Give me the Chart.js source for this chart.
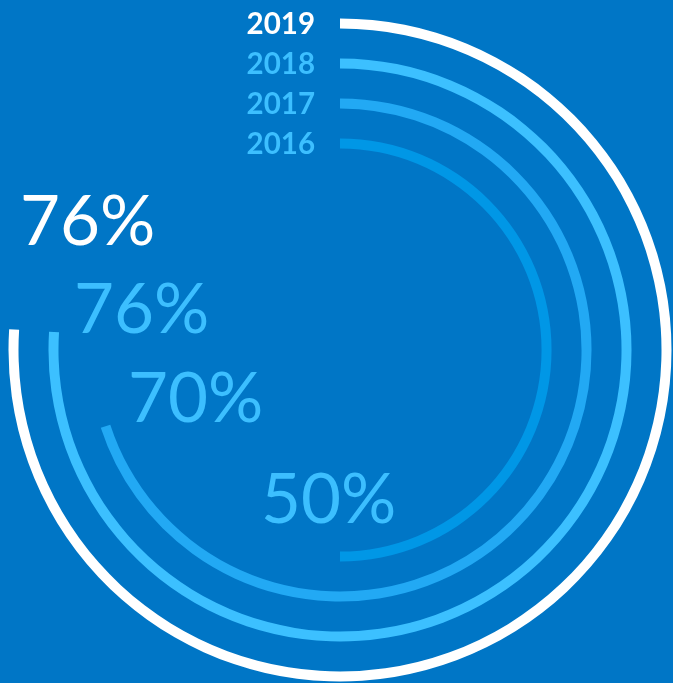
<!DOCTYPE html>
<html>
<head>
<meta charset="utf-8">
<script src="https://cdn.jsdelivr.net/npm/chart.js@4.4.1/dist/chart.umd.min.js"></script>
<style>
  html, body { margin: 0; padding: 0; background: #0076c6; overflow: hidden; }
  #wrap { position: relative; width: 673px; height: 683px; }
</style>
</head>
<body>
<div id="wrap"><canvas id="rings" width="673" height="683"></canvas></div>
<script>
// data
const years = ['2019', '2018', '2017', '2016'];
const shares = [76, 76, 70, 50];
const ringColors = ['#ffffff', '#3cc0ff', '#22a9f4', '#0097e6'];
const textColors = ['#ffffff', '#3cbfff', '#3cbfff', '#3cbfff'];
// where the big % labels sit (left x, baseline y)
const pctPos = [[20, 245], [74, 333], [128, 422], [261, 523]];

const clear = 'rgba(0,0,0,0)';
const datasets = [];
years.forEach((y, i) => {
    datasets.push({
        label: y,
        data: [shares[i], 100 - shares[i]],
        backgroundColor: [ringColors[i], clear],
        borderWidth: 0,
        weight: 10
    });
    if (i < years.length - 1) {
        datasets.push({ label: 'gap', data: [100], backgroundColor: [clear], borderWidth: 0, weight: 30 });
    }
});

const labelPlugin = {
    id: 'ringLabels',
    afterDraw(chart) {
        const ctx = chart.ctx;
        ctx.save();
        years.forEach((y, i) => {
            const arc = chart.getDatasetMeta(i * 2).data[0];
            const mid = (arc.outerRadius + arc.innerRadius) / 2;
            ctx.fillStyle = textColors[i];
            ctx.font = '700 29.5px Lato';
            ctx.textAlign = 'right';
            ctx.textBaseline = 'middle';
            ctx.fillText(y, arc.x - 25, arc.y - mid + 1);

            ctx.font = '400 69px Lato';
            ctx.textAlign = 'left';
            ctx.textBaseline = 'alphabetic';
            ctx.fillText(shares[i] + '%', pctPos[i][0], pctPos[i][1]);
        });
        ctx.restore();
    }
};

new Chart(document.getElementById('rings'), {
    type: 'doughnut',
    data: { labels: ['share', 'rest'], datasets: datasets },
    options: {
        responsive: false,
        animation: false,
        cutout: '60.8%',
        layout: { padding: { left: 8.5, right: 1.5, top: 18.5, bottom: 1.5 } },
        plugins: { legend: { display: false }, tooltip: { enabled: false } }
    },
    plugins: [labelPlugin]
});
</script>
</body>
</html>
